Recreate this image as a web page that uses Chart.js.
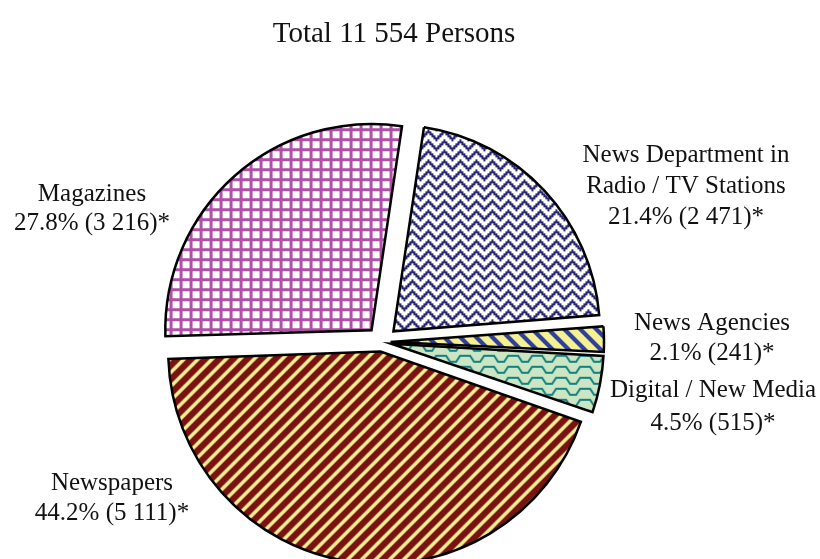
<!DOCTYPE html>
<html>
<head>
<meta charset="utf-8">
<script src="https://cdn.jsdelivr.net/npm/chart.js@4.4.1/dist/chart.umd.min.js"></script>
<style>
  html, body { margin: 0; padding: 0; background: #fff; }
  #wrap { width: 820px; height: 559px; position: relative; }
</style>
</head>
<body>
<div id="wrap"><canvas id="chart"></canvas></div>
<script>
// Chart data
const titleText = 'Total 11 554 Persons';
const categoryLines = [
  ['News Department in', 'Radio / TV Stations'],
  ['News Agencies'],
  ['Digital / New Media'],
  ['Newspapers'],
  ['Magazines']
];
const persons = [2471, 241, 515, 5111, 3216];
const percents = [21.4, 2.1, 4.5, 44.2, 27.8];

// Build a repeating fill from a small tile
function makePattern(w, h, drawTile) {
  const c = document.createElement('canvas');
  c.width = w;
  c.height = h;
  const g = c.getContext('2d');
  drawTile(g, w, h);
  return document.createElement('canvas').getContext('2d').createPattern(c, 'repeat');
}

// Magazines - pink grid
const gridFill = makePattern(10, 10, (g, w, h) => {
  g.fillStyle = '#fff';
  g.fillRect(0, 0, w, h);
  g.fillStyle = '#b04fa8';
  g.fillRect(0, 0, 3, h);
  g.fillRect(0, 0, w, 3);
});

// News Department - navy zigzag (2px cells)
const zigzagFill = makePattern(16, 10, (g, w, h) => {
  g.fillStyle = '#fff';
  g.fillRect(0, 0, w, h);
  g.fillStyle = '#262673';
  for (let cx = 0; cx < 8; cx++) {
    const y0 = cx < 4 ? cx : 8 - cx;
    g.fillRect(cx * 2, (y0 % 5) * 2, 2, 2);
    g.fillRect(cx * 2, ((y0 + 1) % 5) * 2, 2, 2);
  }
});

// Newspapers - maroon / yellow stripes
const redStripeFill = makePattern(14, 14, (g, w, h) => {
  for (let y = 0; y < h; y++) {
    for (let x = 0; x < w; x++) {
      g.fillStyle = ((x + y) % 14) < 5 ? '#f6f190' : '#7b1212';
      g.fillRect(x, y, 1, 1);
    }
  }
});

// News Agencies - blue / yellow stripes
const blueStripeFill = makePattern(16, 16, (g, w, h) => {
  for (let y = 0; y < h; y++) {
    for (let x = 0; x < w; x++) {
      g.fillStyle = ((x - y + 32) % 16) < 6 ? '#2f3f9e' : '#f6f190';
      g.fillRect(x, y, 1, 1);
    }
  }
});

// Digital - green trapezoid waves
const waveFill = makePattern(24, 11, (g, w, h) => {
  g.fillStyle = '#cce6c4';
  g.fillRect(0, 0, w, h);
  g.strokeStyle = '#108080';
  g.lineWidth = 2;
  g.beginPath();
  g.moveTo(0, 2); g.lineTo(5, 2); g.lineTo(9, 8); g.lineTo(15, 8); g.lineTo(19, 2); g.lineTo(24, 2);
  g.stroke();
});

const fills = [zigzagFill, blueStripeFill, waveFill, redStripeFill, gridFill];

// Every slice pulled out by the same distance
const pullOut = 16;
const total = persons.reduce((a, b) => a + b, 0);
const sliceOffsets = persons.map(v => {
  const circ = v / total * Math.PI * 2;
  const fix = 1 - Math.sin(Math.min(Math.PI, circ));
  return 4 * pullOut / (1 + fix);
});

function fmtNum(n) {
  return String(n).replace(/\B(?=(\d{3})+(?!\d))/g, ' ');
}

// Label text anchors (centre x, first line y, line step)
const labelPlaces = [
  { x: 686, y: 162, step: 31 },
  { x: 712, y: 330, step: 30 },
  { x: 713, y: 397, step: 33 },
  { x: 112, y: 490, step: 30 },
  { x: 92,  y: 201, step: 29 }
];

const textPlugin = {
  id: 'textPlugin',
  afterDraw(chart) {
    const ctx = chart.ctx;
    ctx.save();
    ctx.fillStyle = '#111';
    ctx.textAlign = 'center';
    ctx.textBaseline = 'alphabetic';
    ctx.font = '29px "Liberation Serif", "Times New Roman", serif';
    ctx.fillText(titleText, 394, 42);
    ctx.font = '25px "Liberation Serif", "Times New Roman", serif';
    categoryLines.forEach((lines, i) => {
      const p = labelPlaces[i];
      const all = lines.concat([percents[i].toFixed(1) + '% (' + fmtNum(persons[i]) + ')*']);
      all.forEach((t, k) => ctx.fillText(t, p.x, p.y + k * p.step));
    });
    ctx.restore();
  }
};

new Chart(document.getElementById('chart'), {
  type: 'pie',
  data: {
    labels: categoryLines.map(l => l.join(' ')),
    datasets: [{
      data: persons,
      backgroundColor: fills,
      borderColor: '#000',
      borderWidth: 2.5,
      borderJoinStyle: 'miter',
      offset: sliceOffsets,
      hoverOffset: 0,
      clip: false
    }]
  },
  options: {
    responsive: true,
    maintainAspectRatio: false,
    animation: false,
    events: [],
    rotation: 8.5,
    radius: 206,
    layout: { padding: { left: 0, right: 56, top: 125, bottom: 0 } },
    plugins: {
      legend: { display: false },
      tooltip: { enabled: false },
      title: { display: false }
    }
  },
  plugins: [textPlugin]
});
</script>
</body>
</html>
